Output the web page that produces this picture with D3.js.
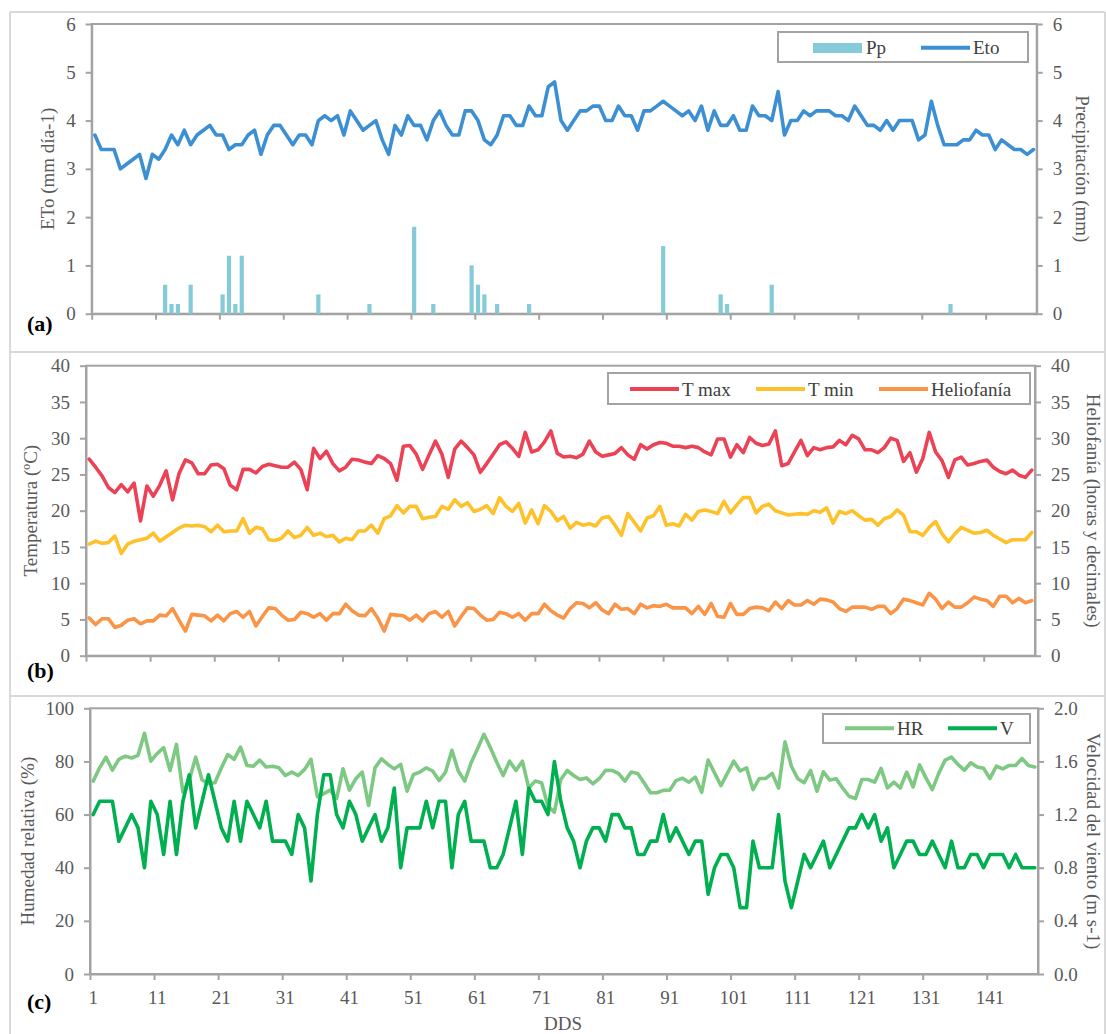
<!DOCTYPE html>
<html>
<head>
<meta charset="utf-8">
<script src="https://cdn.jsdelivr.net/npm/d3@7"></script>
<style>
  body { margin: 0; background: #fff; }
  svg { display: block; }
</style>
</head>
<body>
<svg id="chart" width="1106" height="1034" font-family="'Liberation Serif', 'Times New Roman', serif"></svg>
<script>
// ---- Data: days after sowing (DDS) 1..148 ----
const days = d3.range(1, 149);
const xTickLabels = ["1", "11", "21", "31", "41", "51", "61", "71", "81", "91", "101", "111", "121", "131", "141"];

// (a) reference evapotranspiration (mm día-1) and precipitation (mm)
const eto = [3.7,3.4,3.4,3.4,3.0,3.1,3.2,3.3,2.8,3.3,
  3.2,3.4,3.7,3.5,3.8,3.5,3.7,3.8,3.9,3.7,
  3.7,3.4,3.5,3.5,3.7,3.8,3.3,3.7,3.9,3.9,
  3.7,3.5,3.7,3.7,3.5,4.0,4.1,4.0,4.1,3.7,
  4.2,4.0,3.8,3.9,4.0,3.6,3.3,3.9,3.7,4.1,
  3.9,3.9,3.6,4.0,4.2,3.9,3.7,3.7,4.2,4.2,
  4.0,3.6,3.5,3.7,4.1,4.1,3.9,3.9,4.3,4.1,
  4.1,4.7,4.8,4.0,3.8,4.0,4.2,4.2,4.3,4.3,
  4.0,4.0,4.3,4.1,4.1,3.8,4.2,4.2,4.3,4.4,
  4.3,4.2,4.1,4.2,4.0,4.3,3.8,4.2,3.9,3.9,
  4.1,3.8,3.8,4.3,4.1,4.1,4.0,4.6,3.7,4.0,
  4.0,4.2,4.1,4.2,4.2,4.2,4.1,4.1,4.0,4.3,
  4.1,3.9,3.9,3.8,4.0,3.8,4.0,4.0,4.0,3.6,
  3.7,4.4,3.9,3.5,3.5,3.5,3.6,3.6,3.8,3.7,
  3.7,3.4,3.6,3.5,3.4,3.4,3.3,3.4];
const pp = [0,0,0,0,0,0,0,0,0,0,
  0,0.6,0.2,0.2,0,0.6,0,0,0,0,
  0.4,1.2,0.2,1.2,0,0,0,0,0,0,
  0,0,0,0,0,0.4,0,0,0,0,
  0,0,0,0.2,0,0,0,0,0,0,
  1.8,0,0,0.2,0,0,0,0,0,1.0,
  0.6,0.4,0,0.2,0,0,0,0,0.2,0,
  0,0,0,0,0,0,0,0,0,0,
  0,0,0,0,0,0,0,0,0,1.4,
  0,0,0,0,0,0,0,0,0.4,0.2,
  0,0,0,0,0,0,0.6,0,0,0,
  0,0,0,0,0,0,0,0,0,0,
  0,0,0,0,0,0,0,0,0,0,
  0,0,0,0,0.2,0,0,0,0,0,
  0,0,0,0,0,0,0,0];

// (b) temperatures (ºC) and sunshine hours
const tMax = [27.1,26.0,24.8,23.2,22.5,23.6,22.6,23.8,18.6,23.4,
  22.0,23.5,25.5,21.5,25.1,27.0,26.6,25.1,25.1,26.3,
  26.4,25.8,23.5,22.9,25.7,25.7,25.2,26.1,26.4,26.2,
  26.0,26.0,26.7,25.7,22.9,28.6,27.2,28.2,26.5,25.5,
  26.0,27.1,27.0,26.7,26.5,27.6,27.2,26.5,24.2,28.9,
  29.0,27.8,25.7,27.7,29.6,27.8,24.6,28.5,29.6,28.7,
  27.7,25.3,26.5,27.8,29.1,29.5,28.6,27.5,30.8,28.1,
  28.4,29.5,31.0,27.9,27.4,27.5,27.3,27.8,29.6,28.1,
  27.5,27.7,27.9,28.7,27.7,27.1,29.1,28.5,29.1,29.4,
  29.3,28.9,28.9,28.7,28.9,28.7,28.1,27.7,29.9,29.9,
  27.4,29.1,28.0,30.1,29.3,29.0,29.2,31.0,26.2,26.5,
  28.1,29.7,27.6,28.7,28.4,28.7,28.8,29.7,29.1,30.4,
  29.9,28.4,28.4,28.0,28.7,30.0,29.7,26.8,28.0,25.3,
  27.2,30.8,28.1,26.9,24.6,27.0,27.4,26.3,26.5,26.8,
  27.0,26.0,25.4,25.1,25.6,24.9,24.6,25.6];
const tMin = [15.4,15.8,15.5,15.6,16.5,14.1,15.4,15.8,16.0,16.2,
  16.9,15.8,16.4,17.0,17.6,18.0,17.9,18.0,17.8,17.1,
  18.0,17.1,17.2,17.2,18.9,16.9,17.7,17.5,16.0,15.9,
  16.2,17.2,16.3,16.6,17.7,16.6,16.9,16.4,16.6,15.7,
  16.2,16.0,17.2,17.2,18.0,16.9,18.9,19.3,20.7,19.7,
  20.6,20.6,18.9,19.1,19.2,20.6,20.2,21.5,20.6,21.1,
  19.9,20.2,20.7,19.6,21.8,20.6,19.9,21.0,18.3,20.1,
  18.2,20.7,19.9,18.6,19.2,17.6,18.4,18.0,18.2,17.9,
  19.0,19.2,18.0,16.6,19.6,18.4,17.2,19.0,19.3,20.6,
  18.0,18.2,17.9,19.5,18.7,19.9,20.1,19.9,19.6,21.3,
  19.7,20.8,21.8,21.8,19.7,20.6,20.9,20.0,19.7,19.4,
  19.5,19.6,19.5,20.0,19.8,20.4,18.3,19.9,19.6,20.0,
  19.3,18.7,18.8,18.0,18.9,19.2,20.1,19.4,17.1,17.1,
  16.6,17.7,18.5,16.8,15.7,16.8,17.7,17.3,16.9,17.0,
  17.3,16.6,16.1,15.6,16.0,16.0,16.0,17.0];
const helio = [5.2,4.3,5.1,5.1,3.9,4.2,4.9,5.1,4.4,4.8,
  4.8,5.6,5.5,6.5,4.9,3.4,5.7,5.6,5.5,4.8,
  5.6,4.8,5.8,6.1,5.3,6.1,4.1,5.4,6.6,6.5,
  5.6,4.9,5.0,6.0,5.8,5.3,5.8,4.9,5.8,5.8,
  7.1,6.2,5.6,5.5,6.5,5.2,3.4,5.7,5.6,5.5,
  4.9,5.6,4.8,5.8,6.1,5.3,6.1,4.1,5.4,6.6,
  6.5,5.6,4.9,5.0,6.0,5.8,5.3,5.8,4.9,5.8,
  5.8,7.1,6.2,5.6,5.2,6.5,7.3,7.2,6.6,7.3,
  6.3,5.8,7.1,6.4,6.5,5.8,7.1,6.6,6.9,6.8,
  7.1,6.6,6.6,6.6,5.8,6.8,5.7,7.2,5.4,5.3,
  7.2,5.7,5.7,6.5,6.7,6.6,6.2,7.4,6.5,7.6,
  7.0,7.0,7.6,7.1,7.8,7.7,7.4,6.5,6.1,6.7,
  6.7,6.7,6.4,6.8,6.8,5.8,6.5,7.8,7.6,7.3,
  7.0,8.6,7.8,6.5,7.4,6.7,6.7,7.3,8.1,7.8,
  7.6,6.8,8.2,8.2,7.3,7.9,7.3,7.6];

// (c) relative humidity (%) and wind speed (m s-1)
const hr = [72.6,77.6,81.6,76.7,80.8,82.0,81.3,82.3,90.6,80.1,
  83.0,85.2,76.6,86.4,68.5,73.0,81.6,73.0,71.7,72.0,
  77.5,82.6,80.8,85.4,78.5,78.2,80.5,77.9,78.2,77.6,
  74.7,76.0,74.7,77.0,80.8,66.7,67.9,69.2,66.0,77.2,
  69.2,73.5,76.0,63.4,77.6,81.0,78.9,77.2,78.9,68.8,
  75.1,76.0,77.6,76.4,72.8,76.0,84.2,76.4,72.6,79.5,
  84.8,90.2,85.2,79.7,74.7,80.1,76.6,80.1,70.0,72.6,
  72.0,63.1,60.9,73.2,76.6,74.7,73.2,73.8,71.6,73.5,
  76.7,76.6,75.5,72.6,76.0,75.5,72.0,68.2,68.2,69.1,
  69.2,72.8,73.7,72.2,74.1,68.4,80.5,75.7,70.9,75.5,
  80.1,76.4,77.6,69.4,73.6,73.6,75.5,70.0,87.4,78.2,
  73.5,72.0,76.6,68.8,76.1,73.0,73.5,70.0,66.9,66.0,
  73.2,73.2,72.2,77.4,70.0,72.2,70.0,76.0,70.4,78.7,
  73.8,69.4,75.5,80.5,81.6,78.9,76.7,79.5,77.9,77.4,
  73.6,78.2,77.2,78.5,78.5,81.1,78.5,77.9];
const wind = [1.2,1.3,1.3,1.3,1.0,1.1,1.2,1.1,0.8,1.3,
  1.2,0.9,1.3,0.9,1.3,1.5,1.1,1.3,1.5,1.3,
  1.1,1.0,1.3,1.0,1.3,1.2,1.1,1.3,1.0,1.0,
  1.0,0.9,1.2,1.1,0.7,1.2,1.5,1.5,1.2,1.1,
  1.3,1.2,1.0,1.1,1.2,1.0,1.1,1.4,0.8,1.1,
  1.1,1.1,1.3,1.1,1.3,1.3,0.8,1.2,1.3,1.0,
  1.0,1.0,0.8,0.8,0.9,1.1,1.3,0.9,1.4,1.3,
  1.3,1.2,1.6,1.3,1.1,1.0,0.8,1.0,1.1,1.1,
  1.0,1.2,1.2,1.1,1.1,0.9,0.9,1.0,1.0,1.2,
  1.0,1.1,1.0,0.9,1.0,1.0,0.6,0.8,0.9,0.9,
  0.8,0.5,0.5,1.0,0.8,0.8,0.8,1.2,0.7,0.5,
  0.7,0.9,0.8,0.9,1.0,0.8,0.9,1.0,1.1,1.1,
  1.2,1.1,1.2,1.0,1.1,0.8,0.9,1.0,1.0,0.9,
  0.9,1.0,0.9,0.8,1.0,0.8,0.8,0.9,0.9,0.8,
  0.9,0.9,0.9,0.8,0.9,0.8,0.8,0.8];

// Axis ticks
const ticksA = [0, 1, 2, 3, 4, 5, 6];
const ticksB = [0, 5, 10, 15, 20, 25, 30, 35, 40];
const ticksHR = [0, 20, 40, 60, 80, 100];
const ticksV = [0, 0.4, 0.8, 1.2, 1.6, 2.0];

// Colours
const C = {
  eto: "#3c8fd3", pp: "#84cbd7",
  tmax: "#ec4255", tmin: "#ffc12a", helio: "#fa9446",
  hr: "#7dc882", v: "#00b050"
};
const AXIS = "#a3a3a3", LABEL = "#595959", LEGEND_TXT = "#404040", FS = 19;
const SERIF = "'Liberation Serif', 'Times New Roman', serif";

const svg = d3.select("#chart");

// Outer panel frames
const frame = svg.append("g").attr("stroke", "#d9d9d9").attr("stroke-width", 2).attr("fill", "none");
[[10, 12, 1105, 12], [10, 352, 1105, 352], [10, 696, 1105, 696], [10, 12, 10, 1034], [1105, 12, 1105, 1034]]
  .forEach(([x1, y1, x2, y2]) => frame.append("line").attr("x1", x1).attr("y1", y1).attr("x2", x2).attr("y2", y2));

function txt(sel, size, fill) {
  return sel.style("font-family", SERIF).style("font-size", size + "px").attr("fill", fill);
}

function styleAxis(sel) {
  sel.attr("font-family", null).attr("font-size", null);
  sel.select(".domain").attr("stroke", AXIS).attr("stroke-width", 2);
  sel.selectAll(".tick line").attr("stroke", AXIS).attr("stroke-width", 2);
  txt(sel.selectAll(".tick text"), FS, LABEL);
}

function makePanel(p) {
  const g = svg.append("g");
  const x = d3.scalePoint().domain(days).range([p.left, p.right]).padding(0.5);
  const xb = d3.scaleLinear().domain([0, days.length]).range([p.left, p.right]);
  const yL = d3.scaleLinear().domain(p.leftDomain).range([p.bottom, p.top]);
  const yR = d3.scaleLinear().domain(p.rightDomain).range([p.bottom, p.top]);

  // plot-area box
  g.append("rect").attr("x", p.left).attr("y", p.top)
    .attr("width", p.right - p.left).attr("height", p.bottom - p.top)
    .attr("fill", "none").attr("stroke", AXIS).attr("stroke-width", 2);

  // x axis: ticks every 10 categories
  g.append("g").attr("transform", `translate(0,${p.bottom})`)
    .call(d3.axisBottom(xb).tickValues(d3.range(0, days.length, 10)).tickSize(6).tickSizeOuter(0).tickFormat(""))
    .call(styleAxis);

  g.append("g").attr("transform", `translate(${p.left},0)`)
    .call(d3.axisLeft(yL).tickValues(p.leftTicks).tickSize(6).tickSizeOuter(0).tickPadding(10).tickFormat(p.leftFmt))
    .call(styleAxis);
  g.append("g").attr("transform", `translate(${p.right},0)`)
    .call(d3.axisRight(yR).tickValues(p.rightTicks).tickSize(6).tickSizeOuter(0).tickPadding(10).tickFormat(p.rightFmt))
    .call(styleAxis);

  // axis titles
  const midY = (p.top + p.bottom) / 2;
  txt(g.append("text").attr("transform", `translate(${p.leftTitleX},${midY}) rotate(-90)`)
    .attr("text-anchor", "middle").attr("dominant-baseline", "central"), FS, LABEL).text(p.leftTitle);
  txt(g.append("text").attr("transform", `translate(${p.rightTitleX},${midY}) rotate(90)`)
    .attr("text-anchor", "middle").attr("dominant-baseline", "central"), FS, LABEL).text(p.rightTitle);

  // panel tag
  txt(g.append("text").attr("x", 27).attr("y", p.tagY), 22, "#000")
    .style("font-weight", "bold").text(p.tag);

  return { g, x, yL, yR };
}

function drawLine(g, x, y, values, color) {
  const line = d3.line().x((d, i) => x(days[i])).y(d => y(d));
  g.append("path").datum(values).attr("d", line)
    .attr("fill", "none").attr("stroke", color).attr("stroke-width", 3.6)
    .attr("stroke-linejoin", "round").attr("stroke-linecap", "round");
}

function legendBox(g, x0, y0, w, h) {
  g.append("rect").attr("x", x0).attr("y", y0).attr("width", w).attr("height", h)
    .attr("fill", "#fff").attr("stroke", AXIS).attr("stroke-width", 2);
}
function legendLine(g, x0, y, label, color) {
  g.append("line").attr("x1", x0).attr("x2", x0 + 49).attr("y1", y).attr("y2", y)
    .attr("stroke", color).attr("stroke-width", 4);
  txt(g.append("text").attr("x", x0 + 52).attr("y", y + 6.5), FS, LEGEND_TXT).text(label);
}

// ---------- Panel (a) ----------
const A = makePanel({
  left: 91.7, right: 1036.7, top: 24, bottom: 313.7,
  leftDomain: [0, 6], rightDomain: [0, 6], leftTicks: ticksA, rightTicks: ticksA,
  leftFmt: d3.format("d"), rightFmt: d3.format("d"),
  leftTitle: "ETo (mm día-1)", rightTitle: "Precipitación (mm)",
  leftTitleX: 47, rightTitleX: 1082, tag: "(a)", tagY: 331
});
const bw = 4.2;
A.g.append("g").selectAll("rect").data(pp.map((v, i) => ({ day: days[i], v })).filter(d => d.v > 0))
  .join("rect")
  .attr("x", d => A.x(d.day) - bw / 2).attr("width", bw)
  .attr("y", d => A.yR(d.v)).attr("height", d => A.yR(0) - A.yR(d.v))
  .attr("fill", C.pp);
drawLine(A.g, A.x, A.yL, eto, C.eto);
legendBox(A.g, 778, 32, 250, 30);
A.g.append("rect").attr("x", 813).attr("y", 43).attr("width", 49).attr("height", 10).attr("fill", C.pp);
txt(A.g.append("text").attr("x", 866).attr("y", 54), FS, LEGEND_TXT).text("Pp");
legendLine(A.g, 921, 47.7, "Eto", C.eto);

// ---------- Panel (b) ----------
const B = makePanel({
  left: 86, right: 1035, top: 365.7, bottom: 655.7,
  leftDomain: [0, 40], rightDomain: [0, 40], leftTicks: ticksB, rightTicks: ticksB,
  leftFmt: d3.format("d"), rightFmt: d3.format("d"),
  leftTitle: "Temperatura (ºC)", rightTitle: "Heliofanía (horas y decimales)",
  leftTitleX: 30, rightTitleX: 1093, tag: "(b)", tagY: 678
});
drawLine(B.g, B.x, B.yL, tMax, C.tmax);
drawLine(B.g, B.x, B.yL, tMin, C.tmin);
drawLine(B.g, B.x, B.yR, helio, C.helio);
legendBox(B.g, 608, 373, 422, 31);
legendLine(B.g, 630, 389, "T max", C.tmax);
legendLine(B.g, 756, 389, "T min", C.tmin);
legendLine(B.g, 879, 389, "Heliofanía", C.helio);

// ---------- Panel (c) ----------
const Cp = makePanel({
  left: 90, right: 1038, top: 708.3, bottom: 974,
  leftDomain: [0, 100], rightDomain: [0, 2], leftTicks: ticksHR, rightTicks: ticksV,
  leftFmt: d3.format("d"), rightFmt: d3.format(".1f"),
  leftTitle: "Humedad relativa (%)", rightTitle: "Velocidad del viento (m s-1)",
  leftTitleX: 27, rightTitleX: 1093, tag: "(c)", tagY: 1009
});
drawLine(Cp.g, Cp.x, Cp.yL, hr, C.hr);
drawLine(Cp.g, Cp.x, Cp.yR, wind, C.v);
legendBox(Cp.g, 823, 714, 207, 29);
legendLine(Cp.g, 845, 728.3, "HR", C.hr);
legendLine(Cp.g, 948, 728.3, "V", C.v);

// category labels under the bottom panel
txt(Cp.g.append("g").selectAll("text").data(xTickLabels).join("text")
  .attr("x", d => Cp.x(+d)).attr("y", 1003.5).attr("text-anchor", "middle"), FS, LABEL).text(d => d);
txt(Cp.g.append("text").attr("x", 563).attr("y", 1030).attr("text-anchor", "middle"), FS, LABEL).text("DDS");
</script>
</body>
</html>
